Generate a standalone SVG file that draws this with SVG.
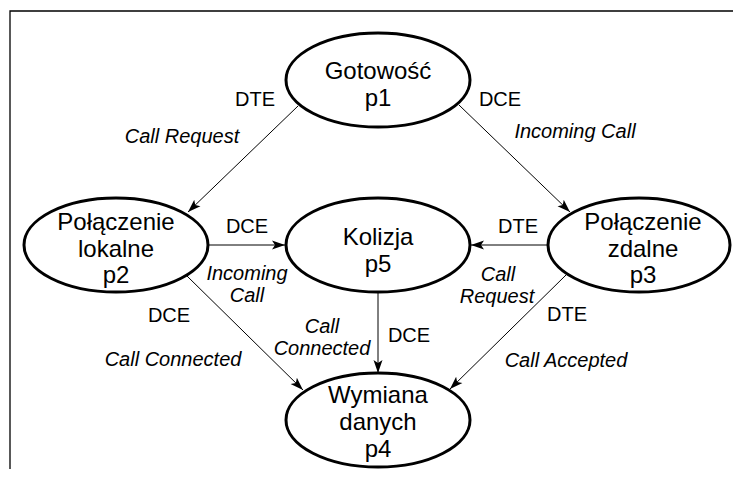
<svg xmlns="http://www.w3.org/2000/svg" width="733" height="479" viewBox="0 0 733 479">
  <style>
    .state ellipse { fill: #ffffff; stroke: #000000; stroke-width: 3; }
    .state text { font-family: "Liberation Sans", Arial, sans-serif; font-size: 24px; fill: #000000; text-anchor: middle; }
    .edge { stroke: #000000; stroke-width: 1; fill: none; marker-end: url(#arrow); }
    .lbl { font-family: "Liberation Sans", Arial, sans-serif; font-size: 20px; fill: #000000; text-anchor: middle; }
    .evt { font-style: italic; }
    .frame { stroke: #000000; stroke-width: 1.3; fill: none; }
  </style>
  <defs>
    <marker id="arrow" markerUnits="userSpaceOnUse" markerWidth="14" markerHeight="12" viewBox="0 0 14 12" refX="13" refY="6" orient="auto">
      <path d="M0,1.5 L13,6 L0,10.5 L3,6 Z" fill="#000000"/>
    </marker>
  </defs>

  <rect width="733" height="479" fill="#ffffff"/>
  <!-- page frame (top and left edges) -->
  <path class="frame" d="M10,469 L10,11 L733,11"/>

  <!-- transitions -->
  <g id="connectors">
    <line class="edge" x1="298" y1="106" x2="188" y2="212"/>
    <line class="edge" x1="459" y1="105" x2="570" y2="212"/>
    <line class="edge" x1="208" y1="245" x2="285" y2="245"/>
    <line class="edge" x1="548" y1="245" x2="471" y2="245"/>
    <line class="edge" x1="187" y1="276" x2="303" y2="390"/>
    <line class="edge" x1="378" y1="291" x2="378" y2="373"/>
    <line class="edge" x1="566" y1="275" x2="450" y2="389"/>
  </g>

  <!-- states -->
  <g id="p1" class="state">
    <ellipse cx="378" cy="80" rx="92" ry="47"/>
    <text x="378" y="79">Gotowość</text>
    <text x="378" y="106">p1</text>
  </g>
  <g id="p2" class="state">
    <ellipse cx="116" cy="245" rx="92" ry="47"/>
    <text x="116" y="230">Połączenie</text>
    <text x="116" y="257">lokalne</text>
    <text x="116" y="283">p2</text>
  </g>
  <g id="p5" class="state">
    <ellipse cx="378" cy="245" rx="92" ry="47"/>
    <text x="378" y="245">Kolizja</text>
    <text x="378" y="272">p5</text>
  </g>
  <g id="p3" class="state">
    <ellipse cx="639" cy="245" rx="91" ry="47"/>
    <text x="643" y="230">Połączenie</text>
    <text x="643" y="257">zdalne</text>
    <text x="643" y="283">p3</text>
  </g>
  <g id="p4" class="state">
    <ellipse cx="378" cy="420" rx="92" ry="47"/>
    <text x="378" y="403">Wymiana</text>
    <text x="378" y="430">danych</text>
    <text x="378" y="457">p4</text>
  </g>

  <!-- transition labels -->
  <g id="labels">
    <text class="lbl" x="255" y="106">DTE</text>
    <text class="lbl evt" x="182" y="143">Call Request</text>
    <text class="lbl" x="500" y="106">DCE</text>
    <text class="lbl evt" x="575" y="138">Incoming Call</text>

    <text class="lbl" x="247" y="233">DCE</text>
    <text class="lbl evt" x="247" y="280">Incoming</text>
    <text class="lbl evt" x="247" y="302">Call</text>

    <text class="lbl" x="518" y="233">DTE</text>
    <text class="lbl evt" x="498" y="281">Call</text>
    <text class="lbl evt" x="497" y="303">Request</text>

    <text class="lbl" x="169" y="322">DCE</text>
    <text class="lbl evt" x="173" y="366">Call Connected</text>

    <text class="lbl evt" x="322" y="333">Call</text>
    <text class="lbl evt" x="322" y="355">Connected</text>
    <text class="lbl" x="409" y="342">DCE</text>

    <text class="lbl" x="567" y="321">DTE</text>
    <text class="lbl evt" x="566" y="367">Call Accepted</text>
  </g>
</svg>
